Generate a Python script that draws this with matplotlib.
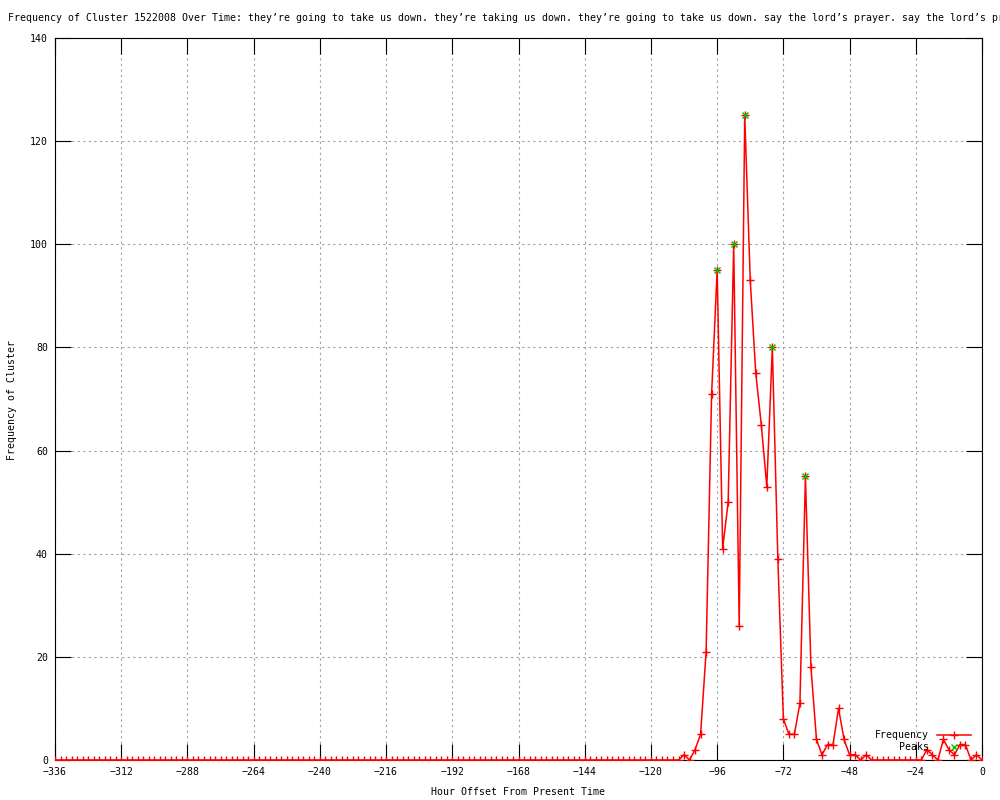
import matplotlib
matplotlib.use("Agg")
import matplotlib.pyplot as plt

# hours back from now, one bin every 2 hours
hours = list(range(-336, 1, 2))

freq = [
    0, 0, 0, 0, 0, 0, 0, 0, 0, 0, 0, 0, 0, 0, 0, 0, 0, 0, 0,   # -336 .. -300
    0, 0, 0, 0, 0, 0, 0, 0, 0, 0, 0, 0, 0, 0, 0, 0, 0, 0, 0,   # -298 .. -262
    0, 0, 0, 0, 0, 0, 0, 0, 0, 0, 0, 0, 0, 0, 0, 0, 0, 0, 0,   # -260 .. -224
    0, 0, 0, 0, 0, 0, 0, 0, 0, 0, 0, 0, 0, 0, 0, 0, 0, 0, 0,   # -222 .. -186
    0, 0, 0, 0, 0, 0, 0, 0, 0, 0, 0, 0, 0, 0, 0, 0, 0, 0, 0,   # -184 .. -148
    0, 0, 0, 0, 0, 0, 0, 0, 0, 0, 0, 0, 0, 0, 0, 0, 0, 0, 0,   # -146 .. -110
    1, 0, 2, 5, 21,                                           # -108 .. -100
    71, 95, 41, 50, 100, 26, 125, 93, 75, 65, 53, 80, 39,     # -98 .. -74
    8, 5, 5, 11, 55, 18, 4, 1, 3, 3, 10, 4, 1,               # -72 .. -48
    1, 0, 1,                                                  # -46 .. -42
    0, 0, 0, 0, 0, 0, 0, 0, 0, 0,                             # -40 .. -22
    2, 1, 0, 4, 2, 1, 3, 3, 0, 1, 0,                          # -20 .. 0
]

peak_hours = [-96, -90, -86, -76, -64]
peak_vals = [95, 100, 125, 80, 55]

title = ("Frequency of Cluster 1522008 Over Time: they\u2019re going to take us down. "
         "they\u2019re taking us down. they\u2019re going to take us down. "
         "say the lord\u2019s prayer. say the lord\u2019s prayer.")

plt.rcParams['font.family'] = ['DejaVu Sans Mono']
fs = 7.15

fig = plt.figure(figsize=(10, 8), dpi=100)
ax = fig.add_axes([0.055, 0.05, 0.927, 0.9025])

ax.plot(hours, freq, color='#ff0000', linewidth=1.1, marker='+',
        markersize=6, markeredgewidth=1, label='Frequency', zorder=3)
ax.plot(peak_hours, peak_vals, color='#00c000', linestyle='none', marker='x',
        markersize=5, markeredgewidth=1, label='Peaks', zorder=4)

ax.set_xlim(-336, 0)
ax.set_ylim(0, 140)
ax.set_xticks(range(-336, 1, 24))
ax.set_yticks(range(0, 141, 20))
ax.tick_params(direction='in', top=True, right=True, length=11.5, width=0.8,
               labelsize=fs, pad=5)
for s in ax.spines.values():
    s.set_linewidth(0.8)

ax.grid(True, color='#a0a0a0', linestyle=(0, (2, 3)), linewidth=0.8)
ax.set_axisbelow(True)

ax.legend(loc='lower right', bbox_to_anchor=(0.993, 0.004), frameon=False,
          markerfirst=False, fontsize=fs, handlelength=3.4, handletextpad=0.8,
          labelspacing=0.2, borderpad=0, numpoints=1)

fig.text(0.008, 1 - 18 / 800, title, ha='left', va='center', fontsize=fs)
fig.text(0.518, 0.01, 'Hour Offset From Present Time', ha='center',
         va='center', fontsize=fs)
fig.text(0.012, 0.5, 'Frequency of Cluster', rotation=90, ha='center',
         va='center', fontsize=fs)

fig.savefig('out.png', dpi=100)
